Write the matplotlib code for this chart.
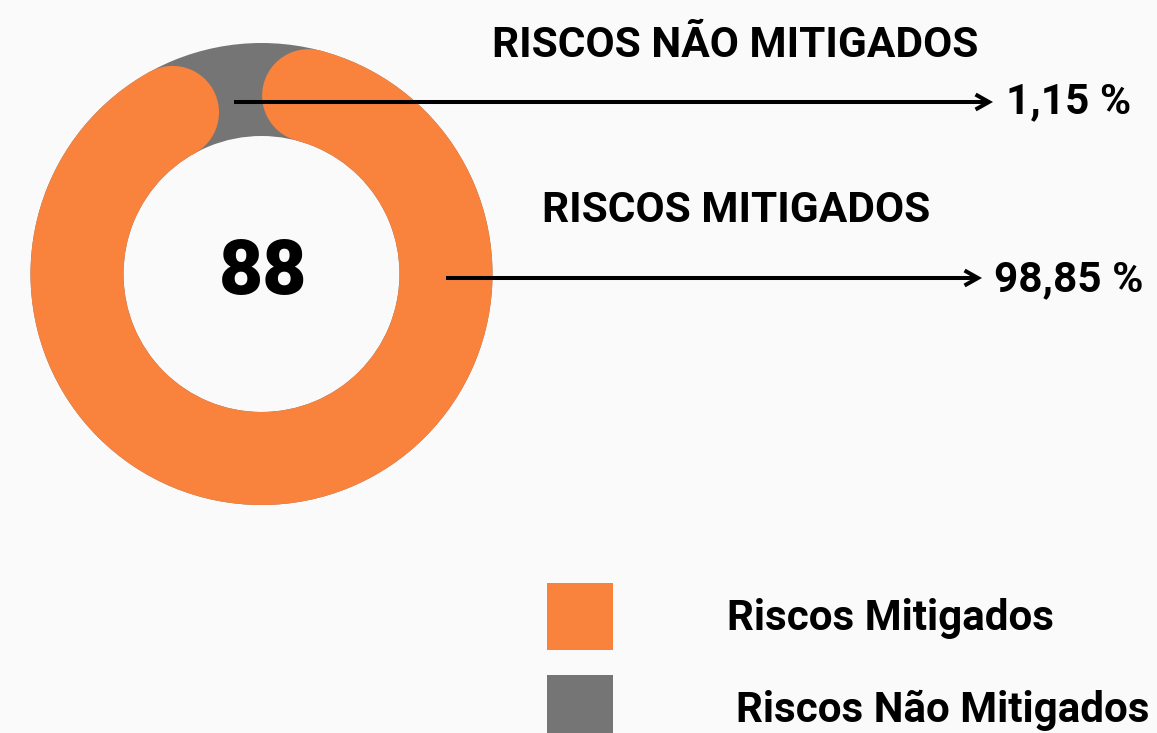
import matplotlib
matplotlib.use("Agg")
import matplotlib.pyplot as plt
from matplotlib.patches import Wedge, Circle, Rectangle, FancyArrowPatch
import numpy as np

# ---- data ----
categories = ["Riscos Mitigados", "Riscos Não Mitigados"]
headers = ["RISCOS MITIGADOS", "RISCOS NÃO MITIGADOS"]
percent_values = [98.85, 1.15]
percent_labels = ["98,85 %", "1,15 %"]
center_value = 88

# ---- style ----
W, H = 1157, 733
BG = "#fafafa"
ORANGE = "#f9823d"
GRAY = "#757575"
FONT = ["Roboto", "DejaVu Sans"]

plt.rcParams["font.family"] = FONT

fig = plt.figure(figsize=(W / 100, H / 100), dpi=100, facecolor=BG)
ax = fig.add_axes([0, 0, 1, 1])
ax.set_xlim(0, W)
ax.set_ylim(0, H)
ax.set_facecolor(BG)
ax.axis("off")

def Y(py):
    return H - py

# donut geometry
cx, cy = 261.5, Y(274)
r_out, r_in = 231, 138
width = r_out - r_in
r_mid = (r_out + r_in) / 2

# gray track (non-mitigated background)
ax.add_patch(Wedge((cx, cy), r_out, 0, 360, width=width, facecolor=GRAY, edgecolor="none"))

# orange arc with rounded caps
start = 75.2           # cap start angle (deg, ccw from +x), going clockwise
cap_gap = 39.5         # visual gap taken by rounded caps
sweep = 360 * percent_values[0] / 100 - cap_gap
theta1 = start - sweep
theta2 = start
ax.add_patch(Wedge((cx, cy), r_out, theta1, theta2, width=width, facecolor=ORANGE, edgecolor="none"))
for th in (theta1, theta2):
    t = np.deg2rad(th)
    ax.add_patch(Circle((cx + r_mid * np.cos(t), cy + r_mid * np.sin(t)), width / 2,
                        facecolor=ORANGE, edgecolor="none"))

# center number
ax.text(263, Y(294), str(center_value), ha="center", va="baseline",
        fontsize=55, fontweight="heavy", color="black")

# arrows
def arrow(x0, y0, x1, y1):
    ax.add_patch(FancyArrowPatch((x0, Y(y0)), (x1, Y(y1)),
                                 arrowstyle="->,head_length=0.8,head_width=0.45",
                                 mutation_scale=12, linewidth=2.9, color="black",
                                 shrinkA=0, shrinkB=0, capstyle="butt", joinstyle="miter"))

arrow(234, 102, 993, 102)
arrow(446, 278, 982, 278)

# headers
ax.text(492, Y(56.7), headers[1], ha="left", va="baseline", fontsize=30.5, fontweight="bold")
ax.text(542, Y(221.7), headers[0], ha="left", va="baseline", fontsize=30.5, fontweight="bold")

# percentages
ax.text(1006, Y(113.3), percent_labels[1], ha="left", va="baseline", fontsize=30.5, fontweight="bold")
ax.text(994, Y(291), percent_labels[0], ha="left", va="baseline", fontsize=30.5, fontweight="bold")

# legend
ax.add_patch(Rectangle((547, Y(650)), 66, 67, facecolor=ORANGE, edgecolor="none"))
ax.add_patch(Rectangle((547, Y(745)), 66, 70, facecolor=GRAY, edgecolor="none"))
ax.text(727, Y(630), categories[0], ha="left", va="baseline", fontsize=30.3, fontweight="bold")
ax.text(736, Y(722), categories[1], ha="left", va="baseline", fontsize=30.3, fontweight="bold")

fig.savefig("out.png", dpi=100, facecolor=BG)
